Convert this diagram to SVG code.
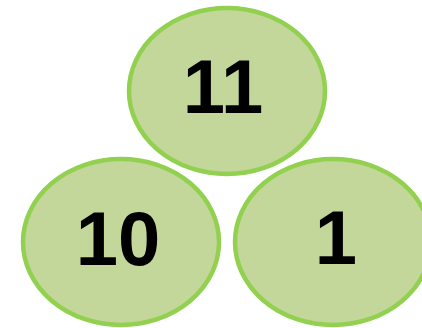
<svg xmlns="http://www.w3.org/2000/svg" width="422" height="328" viewBox="0 0 422 328">
<style>
.n{fill:#C4D79B;stroke:#92D050;stroke-width:4.5}
.t{font-family:"Liberation Sans",Arial,sans-serif;font-weight:bold;font-size:76px;fill:#000;text-anchor:middle}
</style>
<rect width="422" height="328" fill="#fff"/>
<g id="connectors"></g>
<g id="node-11"><ellipse class="n" cx="227" cy="91" rx="98" ry="83"/><text class="t" x="223" y="113">11</text></g>
<g id="node-10"><ellipse class="n" cx="121" cy="242" rx="98" ry="83"/><text class="t" x="118" y="265">10</text></g>
<g id="node-1"><ellipse class="n" cx="333" cy="242" rx="98" ry="83"/><text class="t" x="336" y="264">1</text></g>
</svg>
